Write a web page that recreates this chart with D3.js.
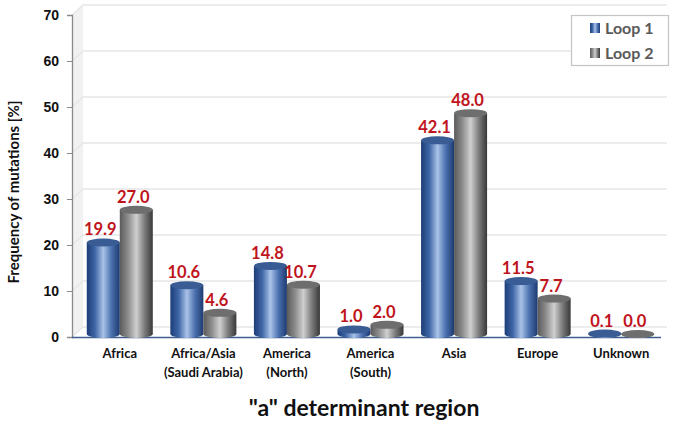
<!DOCTYPE html>
<html>
<head>
<meta charset="utf-8">
<script src="https://cdn.jsdelivr.net/npm/d3@7"></script>
<style>
  body { margin: 0; background: #fff; }
  svg { display: block; font-family: Lato, "Open Sans", sans-serif; font-weight: 700; }
</style>
</head>
<body>
<svg id="chart" width="675" height="422"></svg>
<script>
const categories = [
  ['Africa'],
  ['Africa/Asia', '(Saudi Arabia)'],
  ['America', '(North)'],
  ['America', '(South)'],
  ['Asia'],
  ['Europe'],
  ['Unknown'],
];
const seriesNames = ['Loop 1', 'Loop 2'];
const loop1 = [19.9, 10.6, 14.8, 1.0, 42.1, 11.5, 0.1];
const loop2 = [27.0, 4.6, 10.7, 2.0, 48.0, 7.7, 0.0];
const yTicks = [0, 10, 20, 30, 40, 50, 60, 70];

const svg = d3.select('#chart');
const defs = svg.append('defs');

// colours per series: edge, middle, other edge, cap
const looks = [
  { id: 'blue', stops: ['#1c3d78', '#3f66a6', '#a9c2e8', '#4a70ae', '#1d3a70'], cap: '#3a5c94' },
  { id: 'gray', stops: ['#5a5a5a', '#8c8c8c', '#cfcfcf', '#7c7c7c', '#383838'], cap: '#6e6e6e' },
];
looks.forEach(l => {
  const g = defs.append('linearGradient').attr('id', l.id);
  l.stops.forEach((c, i) => g.append('stop').attr('offset', i / 4).attr('stop-color', c));
});

const plotLeft = 72, plotRight = 663, plotBottom = 337, plotTop = 15;
const depth = 10;

const x = d3.scaleBand().domain(d3.range(categories.length)).range([78, plotRight]).paddingInner(0.21).paddingOuter(0.105);
const inner = d3.scaleBand().domain(d3.range(seriesNames.length)).range([0, x.bandwidth()]);
const y = d3.scaleLinear().domain([0, 70]).range([plotBottom, plotTop]);
// bars stand a little behind the axis line, on the chart's floor
const barY = d3.scaleLinear().domain([0, 70]).range([plotBottom - 3, plotTop - 3]);

// left wall
svg.append('path')
  .attr('d', `M${plotLeft},${plotTop}L${plotLeft + depth + 1},${plotTop - depth}V${plotBottom - depth}L${plotLeft},${plotBottom}Z`)
  .attr('fill', '#f1f1f1');

// gridlines on wall and back
svg.append('g').selectAll('path')
  .data(yTicks)
  .join('path')
  .attr('d', d => `M${plotLeft},${y(d)}L${plotLeft + depth + 1},${y(d) - depth}H${plotRight + 4}`)
  .attr('fill', 'none')
  .attr('stroke', '#e6e6e6')
  .attr('stroke-width', 1.3);

// y axis
const yAxis = svg.append('g')
  .attr('transform', `translate(${plotLeft},0)`)
  .call(d3.axisLeft(y).tickValues(yTicks).tickSize(5).tickPadding(8));
yAxis.select('.domain').attr('stroke', '#8a8a8a').attr('stroke-width', 1.3);
yAxis.selectAll('.tick line').attr('stroke', '#8a8a8a');
yAxis.selectAll('text').attr('font-size', 14).attr('font-family', 'inherit').attr('fill', '#111');

// x axis line
svg.append('line')
  .attr('x1', plotLeft).attr('x2', plotRight - 2)
  .attr('y1', plotBottom + 0.5).attr('y2', plotBottom + 0.5)
  .attr('stroke', '#3f5f8f').attr('stroke-width', 1.4);

// cylinders
const ry = 4;
const rows = categories.map((c, i) => [loop1[i], loop2[i]].map((v, s) => ({ i, s, v })));
const group = svg.append('g').selectAll('g')
  .data(rows.flat())
  .join('g')
  .attr('transform', d => `translate(${x(d.i) + inner(d.s)},0)`);

const bw = inner.bandwidth();
group.append('path')
  .attr('d', d => {
    const t = barY(d.v), b = barY(0);
    return `M0,${t}V${b}A${bw / 2},${ry} 0 0 0 ${bw},${b}V${t}Z`;
  })
  .attr('fill', d => `url(#${looks[d.s].id})`);
group.append('ellipse')
  .attr('cx', bw / 2)
  .attr('cy', d => barY(d.v))
  .attr('rx', bw / 2)
  .attr('ry', ry)
  .attr('fill', d => looks[d.s].cap);

// value labels
group.append('text')
  .attr('x', bw / 2 - 3)
  .attr('y', d => barY(d.v) - 7)
  .attr('text-anchor', 'middle')
  .attr('font-size', 16.5)
  .attr('fill', '#c0141c')
  .text(d => d.v.toFixed(1));

// category labels
const catLabels = svg.append('g').selectAll('text')
  .data(categories)
  .join('text')
  .attr('text-anchor', 'middle')
  .attr('font-size', 13)
  .attr('fill', '#111')
  .attr('transform', (d, i) => `translate(${x(i) + x.bandwidth() / 2},358)`);
catLabels.selectAll('tspan')
  .data(d => d)
  .join('tspan')
  .attr('x', 0)
  .attr('y', (d, i) => i * 19)
  .text(d => d);

// axis titles
svg.append('text')
  .attr('transform', 'translate(19,192) rotate(-90)')
  .attr('text-anchor', 'middle')
  .attr('font-size', 15)
  .attr('fill', '#111')
  .text('Frequency of mutations [%]');
svg.append('text')
  .attr('x', 364).attr('y', 416)
  .attr('text-anchor', 'middle')
  .attr('font-size', 23)
  .attr('fill', '#111')
  .text('"a" determinant region');

// legend
const legend = svg.append('g');
legend.append('rect')
  .attr('x', 571.5).attr('y', 15.5)
  .attr('width', 97).attr('height', 50)
  .attr('fill', '#fff')
  .attr('stroke', '#c4c4c4')
  .attr('stroke-width', 1.2);
const legendY = d3.scalePoint().domain(seriesNames).range([28, 53]);
const items = legend.selectAll('g')
  .data(seriesNames)
  .join('g')
  .attr('transform', d => `translate(590,${legendY(d)})`);
items.append('rect')
  .attr('y', -5).attr('width', 10).attr('height', 10)
  .attr('fill', (d, i) => `url(#${looks[i].id})`);
items.append('text')
  .attr('x', 15).attr('y', 6)
  .attr('font-size', 16)
  .attr('fill', '#5a5a5a')
  .text(d => d);
</script>
</body>
</html>
